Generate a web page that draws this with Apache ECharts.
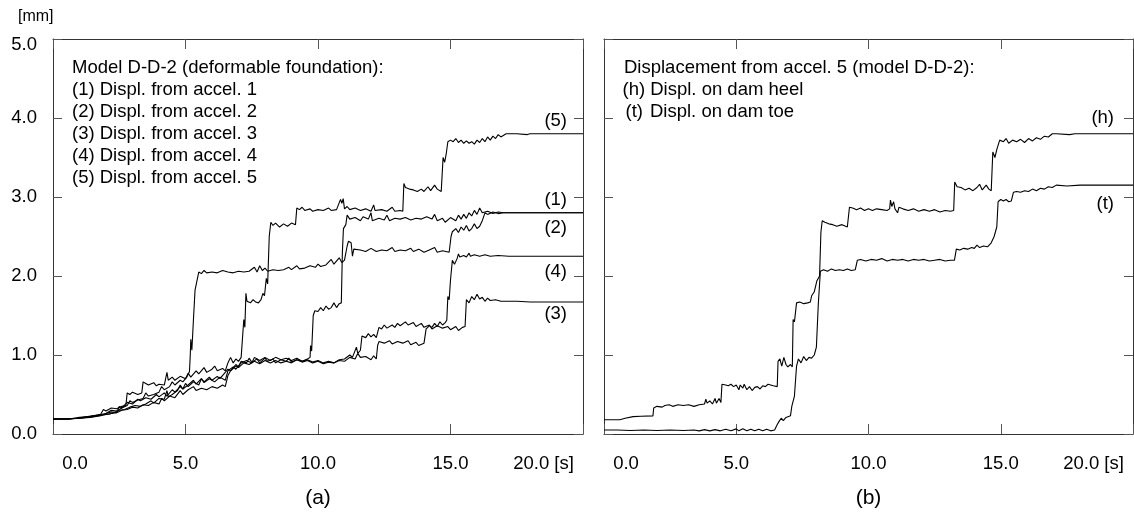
<!DOCTYPE html>
<html>
<head>
<meta charset="utf-8">
<script src="https://cdn.jsdelivr.net/npm/echarts@6/dist/echarts.min.js"></script>
<style>
html,body{margin:0;padding:0;background:#fff;}
#chart{width:1134px;height:517px;}
</style>
</head>
<body>
<div id="chart"></div>
<script>
// ---- data (time [s], displacement [mm]) ----
const xTicks = [0, 5, 10, 15, 20];
const yTicks = [0, 1, 2, 3, 4, 5];

// Panel (a)
const s1 = [[0,0.19],[0.5,0.19],[0.9,0.2],[1.3,0.22],[1.7,0.24],[2.0,0.26],[2.2,0.3],[2.4,0.29],[2.6,0.33],[2.8,0.36],[2.9,0.42],[3.0,0.4],[3.2,0.43],[3.4,0.45],[3.5,0.52],[3.6,0.48],[3.8,0.5],[4.0,0.53],[4.1,0.6],[4.2,0.56],[4.4,0.6],[4.5,0.66],[4.6,0.62],[4.8,0.68],[4.9,0.66],[5.05,0.72],[5.15,0.79],[5.18,1.0],[5.2,1.2],[5.24,1.06],[5.3,1.45],[5.36,1.82],[5.42,1.92],[5.5,2.05],[5.6,2.03],[5.7,2.07],[5.8,2.04],[6.0,2.05],[6.2,2.04],[6.4,2.07],[6.6,2.05],[6.8,2.04],[7.0,2.06],[7.2,2.05],[7.4,2.06],[7.6,2.11],[7.7,2.05],[7.8,2.13],[7.9,2.07],[8.0,2.1],[8.1,2.06],[8.3,2.08],[8.5,2.07],[8.7,2.08],[8.9,2.11],[9.0,2.08],[9.2,2.13],[9.3,2.09],[9.5,2.1],[9.7,2.13],[9.9,2.11],[10.0,2.15],[10.1,2.12],[10.3,2.14],[10.5,2.21],[10.6,2.15],[10.8,2.23],[10.9,2.17],[11.0,2.2],[11.1,2.38],[11.15,2.44],[11.25,2.42],[11.3,2.25],[11.35,2.34],[11.6,2.33],[11.8,2.31],[12.0,2.35],[12.2,2.31],[12.4,2.33],[12.6,2.32],[12.8,2.36],[12.9,2.31],[13.1,2.33],[13.3,2.32],[13.5,2.35],[13.6,2.31],[13.8,2.34],[14.0,2.3],[14.2,2.33],[14.4,2.36],[14.5,2.3],[14.7,2.32],[14.95,2.3],[15.02,2.5],[15.07,2.56],[15.2,2.6],[15.3,2.55],[15.4,2.62],[15.5,2.58],[15.6,2.64],[15.7,2.57],[15.8,2.6],[15.9,2.66],[16.0,2.6],[16.1,2.63],[16.2,2.7],[16.3,2.8],[16.4,2.78],[16.6,2.81],[16.8,2.79],[17.0,2.8],[18,2.8],[20,2.8]];
const s2 = [[0,0.19],[0.5,0.19],[1.0,0.2],[1.4,0.22],[1.8,0.24],[2.1,0.25],[2.3,0.27],[2.5,0.3],[2.7,0.31],[2.9,0.34],[3.1,0.36],[3.3,0.35],[3.5,0.38],[3.7,0.42],[3.8,0.39],[4.0,0.45],[4.2,0.44],[4.3,0.55],[4.35,0.47],[4.5,0.5],[4.7,0.55],[4.8,0.62],[4.9,0.57],[5.1,0.62],[5.3,0.68],[5.4,0.63],[5.6,0.7],[5.7,0.66],[5.9,0.72],[6.0,0.68],[6.2,0.73],[6.3,0.7],[6.5,0.78],[6.6,0.82],[6.7,0.8],[6.9,0.88],[7.0,0.85],[7.1,0.92],[7.3,0.9],[7.4,0.96],[7.5,0.91],[7.7,0.95],[7.8,0.9],[8.0,0.96],[8.1,0.92],[8.3,0.95],[8.4,0.9],[8.6,0.94],[8.8,0.92],[8.9,0.96],[9.0,0.91],[9.2,0.94],[9.4,0.92],[9.6,0.95],[9.7,0.97],[9.72,1.12],[9.76,1.05],[9.82,1.5],[9.88,1.56],[10.0,1.55],[10.1,1.6],[10.2,1.56],[10.3,1.62],[10.4,1.58],[10.5,1.6],[10.6,1.66],[10.7,1.6],[10.8,1.65],[10.88,1.66],[10.92,2.3],[10.96,2.6],[11.05,2.65],[11.1,2.77],[11.2,2.72],[11.4,2.74],[11.6,2.7],[11.7,2.75],[11.9,2.72],[12.0,2.8],[12.05,2.7],[12.3,2.73],[12.5,2.71],[12.6,2.77],[12.7,2.7],[12.9,2.73],[13.1,2.72],[13.3,2.74],[13.5,2.71],[13.7,2.73],[13.9,2.72],[14.1,2.75],[14.3,2.72],[14.4,2.78],[14.5,2.7],[14.7,2.73],[14.8,2.68],[15.0,2.74],[15.2,2.7],[15.3,2.77],[15.4,2.72],[15.5,2.78],[15.6,2.73],[15.7,2.8],[15.8,2.76],[15.9,2.83],[16.0,2.78],[16.1,2.86],[16.2,2.8],[16.4,2.82],[16.6,2.79],[16.8,2.81],[17.0,2.8],[18.0,2.8],[20,2.8]];
const s3 = [[0,0.19],[0.6,0.19],[1.0,0.2],[1.4,0.21],[1.8,0.23],[2.0,0.26],[2.2,0.28],[2.4,0.27],[2.5,0.35],[2.6,0.33],[2.8,0.4],[3.0,0.38],[3.2,0.44],[3.3,0.42],[3.5,0.46],[3.7,0.44],[3.9,0.5],[4.0,0.47],[4.2,0.52],[4.3,0.48],[4.5,0.56],[4.6,0.53],[4.8,0.6],[4.9,0.57],[5.0,0.64],[5.1,0.6],[5.3,0.66],[5.5,0.62],[5.6,0.7],[5.7,0.65],[5.9,0.7],[6.1,0.66],[6.3,0.72],[6.5,0.68],[6.6,0.8],[6.8,0.85],[6.9,0.82],[7.1,0.9],[7.3,0.93],[7.5,0.9],[7.6,0.97],[7.8,0.93],[8.0,0.97],[8.2,0.93],[8.4,0.97],[8.6,0.94],[8.8,0.96],[9.0,0.93],[9.2,0.96],[9.4,0.92],[9.6,0.94],[9.8,0.91],[10.0,0.93],[10.2,0.9],[10.4,0.92],[10.6,0.9],[10.8,0.94],[11.0,0.95],[11.2,1.0],[11.3,0.97],[11.45,1.1],[11.5,1.02],[11.6,1.06],[11.66,1.24],[11.8,1.22],[11.9,1.27],[12.0,1.23],[12.1,1.26],[12.2,1.22],[12.3,1.35],[12.4,1.33],[12.5,1.38],[12.6,1.34],[12.8,1.38],[12.9,1.35],[13.0,1.4],[13.1,1.37],[13.3,1.42],[13.4,1.38],[13.6,1.41],[13.7,1.36],[13.9,1.4],[14.0,1.35],[14.2,1.38],[14.3,1.33],[14.5,1.37],[14.7,1.34],[14.9,1.36],[15.0,1.32],[15.2,1.36],[15.3,1.31],[15.45,1.35],[15.55,1.36],[15.6,1.7],[15.7,1.66],[15.8,1.74],[15.9,1.7],[16.0,1.77],[16.1,1.71],[16.2,1.73],[16.3,1.68],[16.4,1.72],[16.5,1.69],[16.7,1.7],[16.9,1.68],[17.5,1.68],[18,1.67],[20,1.67]];
const s4 = [[0,0.19],[0.5,0.19],[1.0,0.2],[1.5,0.22],[1.9,0.24],[2.2,0.26],[2.4,0.27],[2.6,0.3],[2.8,0.31],[3.0,0.34],[3.2,0.33],[3.4,0.37],[3.6,0.36],[3.8,0.4],[4.0,0.38],[4.1,0.45],[4.2,0.42],[4.4,0.48],[4.6,0.46],[4.8,0.55],[4.9,0.5],[5.1,0.56],[5.3,0.6],[5.4,0.55],[5.6,0.58],[5.8,0.56],[6.0,0.6],[6.2,0.58],[6.4,0.62],[6.5,0.6],[6.6,0.74],[6.7,0.8],[6.9,0.86],[7.0,0.84],[7.2,0.9],[7.4,0.88],[7.6,0.92],[7.8,0.89],[8.0,0.93],[8.2,0.9],[8.4,0.93],[8.6,0.9],[8.8,0.92],[9.0,0.9],[9.2,0.94],[9.4,0.91],[9.6,0.93],[9.8,0.9],[10.0,0.92],[10.2,0.89],[10.4,0.91],[10.6,0.9],[10.8,0.93],[11.0,0.92],[11.2,0.97],[11.4,0.95],[11.5,1.02],[11.6,0.97],[11.8,0.98],[12.0,0.94],[12.1,0.99],[12.2,0.95],[12.25,1.12],[12.3,1.17],[12.5,1.15],[12.7,1.18],[12.8,1.14],[13.0,1.17],[13.2,1.15],[13.4,1.18],[13.5,1.13],[13.7,1.16],[13.8,1.12],[14.0,1.15],[14.05,1.14],[14.08,1.33],[14.2,1.37],[14.3,1.35],[14.4,1.4],[14.5,1.36],[14.6,1.42],[14.7,1.38],[14.8,1.41],[14.86,1.44],[14.9,1.74],[14.95,1.7],[15.0,1.95],[15.07,2.2],[15.15,2.15],[15.25,2.22],[15.3,2.28],[15.35,2.24],[15.5,2.26],[15.6,2.24],[15.7,2.29],[15.75,2.25],[15.9,2.27],[16.1,2.25],[16.3,2.27],[16.5,2.25],[16.8,2.26],[17.2,2.25],[18,2.25],[20,2.25]];
const s5 = [[0,0.19],[0.6,0.19],[1.0,0.21],[1.4,0.22],[1.8,0.25],[1.9,0.31],[2.0,0.29],[2.2,0.33],[2.4,0.32],[2.6,0.35],[2.75,0.36],[2.8,0.52],[2.9,0.5],[3.0,0.53],[3.2,0.5],[3.35,0.52],[3.4,0.66],[3.5,0.64],[3.6,0.62],[3.8,0.65],[3.9,0.61],[4.0,0.63],[4.2,0.62],[4.3,0.78],[4.35,0.68],[4.5,0.72],[4.6,0.68],[4.8,0.73],[5.0,0.7],[5.1,0.77],[5.2,0.72],[5.4,0.8],[5.5,0.76],[5.7,0.84],[5.8,0.78],[6.0,0.82],[6.1,0.86],[6.2,0.8],[6.4,0.83],[6.5,0.8],[6.6,0.9],[6.7,0.97],[6.8,0.9],[6.9,0.95],[7.0,0.92],[7.1,0.97],[7.17,0.96],[7.2,1.45],[7.24,1.35],[7.28,1.78],[7.32,1.68],[7.45,1.66],[7.55,1.7],[7.65,1.67],[7.75,1.66],[7.85,1.7],[7.92,1.78],[7.98,1.75],[8.05,1.97],[8.1,1.9],[8.16,2.5],[8.22,2.68],[8.3,2.64],[8.4,2.67],[8.55,2.62],[8.7,2.66],[8.85,2.63],[9.0,2.67],[9.15,2.65],[9.2,2.86],[9.3,2.84],[9.4,2.87],[9.5,2.83],[9.7,2.85],[9.8,2.82],[10.0,2.84],[10.2,2.83],[10.4,2.86],[10.5,2.83],[10.7,2.84],[10.85,2.97],[10.9,2.92],[10.95,2.98],[11.0,2.85],[11.1,2.88],[11.2,2.84],[11.4,2.86],[11.6,2.83],[11.8,2.85],[12.0,2.82],[12.1,2.9],[12.15,2.83],[12.4,2.84],[12.6,2.82],[12.8,2.87],[12.9,2.82],[13.1,2.83],[13.2,2.82],[13.24,3.17],[13.3,3.12],[13.45,3.1],[13.6,3.09],[13.75,3.07],[13.9,3.1],[14.0,3.07],[14.15,3.13],[14.25,3.08],[14.4,3.15],[14.5,3.1],[14.65,3.07],[14.72,3.5],[14.78,3.44],[14.84,3.55],[14.9,3.7],[15.0,3.72],[15.1,3.7],[15.2,3.74],[15.3,3.69],[15.4,3.72],[15.5,3.68],[15.6,3.71],[15.7,3.68],[15.8,3.7],[15.9,3.67],[16.0,3.72],[16.1,3.69],[16.2,3.74],[16.3,3.7],[16.4,3.76],[16.5,3.72],[16.6,3.77],[16.7,3.74],[16.8,3.79],[16.9,3.76],[17.1,3.8],[17.5,3.8],[17.9,3.79],[18.0,3.8],[20,3.8]];

// Panel (b)
const sHeel = [[0,0.18],[0.6,0.18],[0.8,0.2],[1.1,0.22],[1.4,0.225],[1.85,0.23],[1.88,0.33],[2.0,0.35],[2.2,0.34],[2.3,0.36],[2.46,0.37],[2.6,0.35],[2.8,0.37],[3.0,0.36],[3.2,0.37],[3.4,0.35],[3.6,0.37],[3.8,0.38],[3.85,0.44],[3.9,0.39],[4.0,0.42],[4.1,0.38],[4.2,0.45],[4.25,0.39],[4.35,0.45],[4.42,0.4],[4.46,0.63],[4.6,0.62],[4.7,0.61],[4.8,0.63],[4.9,0.6],[5.0,0.62],[5.1,0.56],[5.15,0.62],[5.25,0.58],[5.3,0.63],[5.4,0.56],[5.5,0.6],[5.6,0.55],[5.7,0.59],[5.8,0.6],[5.9,0.57],[6.0,0.61],[6.1,0.6],[6.2,0.63],[6.4,0.61],[6.55,0.6],[6.58,0.92],[6.65,0.95],[6.72,0.86],[6.8,0.97],[6.88,0.88],[6.95,0.85],[7.05,0.88],[7.12,0.85],[7.15,1.45],[7.2,1.42],[7.28,1.66],[7.4,1.67],[7.55,1.65],[7.7,1.66],[7.8,1.67],[7.85,1.75],[7.95,1.8],[8.05,1.94],[8.15,2.0],[8.2,2.55],[8.25,2.7],[8.35,2.68],[8.5,2.66],[8.65,2.65],[8.8,2.63],[9.0,2.65],[9.2,2.62],[9.28,2.87],[9.4,2.86],[9.55,2.84],[9.7,2.86],[9.85,2.83],[10.0,2.85],[10.15,2.83],[10.3,2.85],[10.5,2.84],[10.7,2.83],[10.8,2.85],[10.83,2.96],[10.88,2.88],[10.95,2.94],[11.0,2.85],[11.1,2.8],[11.15,2.87],[11.3,2.85],[11.5,2.83],[11.7,2.85],[11.9,2.82],[12.1,2.84],[12.3,2.82],[12.5,2.84],[12.7,2.81],[12.9,2.83],[13.1,2.82],[13.22,2.83],[13.26,3.19],[13.35,3.13],[13.5,3.12],[13.65,3.09],[13.8,3.11],[13.95,3.08],[14.1,3.12],[14.2,3.16],[14.3,3.09],[14.45,3.15],[14.55,3.1],[14.64,3.08],[14.7,3.57],[14.78,3.5],[14.85,3.6],[14.96,3.72],[15.1,3.7],[15.2,3.74],[15.3,3.68],[15.45,3.72],[15.6,3.7],[15.75,3.73],[15.9,3.69],[16.05,3.74],[16.2,3.71],[16.35,3.75],[16.5,3.73],[16.65,3.77],[16.8,3.76],[16.95,3.8],[17.1,3.8],[17.6,3.79],[17.8,3.8],[20,3.8]];
const sToe = [[0,0.05],[0.5,0.05],[1.0,0.045],[1.5,0.05],[2.0,0.045],[2.5,0.05],[3.0,0.045],[3.4,0.05],[3.6,0.04],[3.8,0.055],[4.0,0.04],[4.2,0.055],[4.4,0.04],[4.6,0.06],[4.8,0.04],[5.0,0.065],[5.1,0.04],[5.25,0.065],[5.4,0.04],[5.55,0.06],[5.7,0.04],[5.85,0.06],[6.0,0.04],[6.15,0.06],[6.3,0.04],[6.45,0.05],[6.55,0.12],[6.62,0.16],[6.7,0.2],[6.78,0.17],[6.88,0.21],[6.95,0.2],[7.05,0.23],[7.1,0.35],[7.2,0.48],[7.28,0.86],[7.35,0.95],[7.45,0.9],[7.55,0.98],[7.65,0.93],[7.75,0.97],[7.85,0.96],[7.95,1.0],[8.03,1.1],[8.1,1.63],[8.18,2.06],[8.3,2.08],[8.45,2.06],[8.6,2.09],[8.75,2.07],[8.9,2.08],[9.05,2.07],[9.2,2.09],[9.35,2.07],[9.5,2.08],[9.58,2.2],[9.7,2.21],[9.9,2.19],[10.1,2.21],[10.3,2.2],[10.5,2.22],[10.7,2.19],[10.9,2.21],[11.1,2.2],[11.3,2.21],[11.5,2.19],[11.7,2.21],[11.9,2.2],[12.1,2.21],[12.3,2.19],[12.5,2.2],[12.7,2.21],[12.9,2.19],[13.1,2.2],[13.25,2.2],[13.32,2.34],[13.45,2.33],[13.6,2.35],[13.75,2.34],[13.9,2.36],[14.0,2.35],[14.1,2.39],[14.2,2.36],[14.35,2.38],[14.5,2.37],[14.64,2.42],[14.75,2.5],[14.85,2.62],[14.9,2.94],[15.0,2.97],[15.1,2.95],[15.2,2.97],[15.3,2.94],[15.4,2.95],[15.48,3.06],[15.6,3.07],[15.75,3.06],[15.9,3.08],[16.05,3.07],[16.2,3.1],[16.35,3.08],[16.5,3.11],[16.65,3.1],[16.8,3.13],[16.95,3.12],[17.1,3.15],[17.5,3.14],[18,3.15],[20,3.15]];

const legendA = ['Model D-D-2 (deformable foundation):','(1) Displ. from accel. 1','(2) Displ. from accel. 2','(3) Displ. from accel. 3','(4) Displ. from accel. 4','(5) Displ. from accel. 5'];
const legendB = ['Displacement from accel. 5 (model D-D-2):','(h) Displ. on dam heel','Displ. on dam toe'];
const curveLabelsA = ['(5)','(1)','(2)','(4)','(3)'];
const curveLabelsB = ['(h)','(t)'];

// ---- chart ----
const FONT = 'Liberation Sans, Arial, Helvetica, sans-serif';
const FS = 18.5;
const frame = '#333';
const tickCol = '#555';

function xAxisCfg(grid, showLabels, pos) {
  return {
    type: 'value', gridIndex: grid, position: pos, min: xTicks[0], max: xTicks[xTicks.length-1], interval: 5,
    axisLine: {show: true, onZero: false, lineStyle: {color: frame, width: 1}},
    axisTick: {show: true, inside: true, length: 10, lineStyle: {color: tickCol, width: 1}},
    splitLine: {show: false},
    axisLabel: showLabels ? {
      show: true, color: '#000', fontFamily: FONT, fontSize: FS, margin: 20,
      showMinLabel: true, showMaxLabel: true,
      formatter: function (v) {
        if (v === 0) return '{l|0.0}';
        if (v === 20) return '{r|20.0 [s]}';
        return v.toFixed(1);
      },
      rich: {
        l: {padding: [0, 0, 0, 44], fontFamily: FONT, fontSize: FS, color: '#000'},
        r: {padding: [0, 79, 0, 0], fontFamily: FONT, fontSize: FS, color: '#000'}
      }
    } : {show: false}
  };
}
function yAxisCfg(grid, showLabels, pos) {
  return {
    type: 'value', gridIndex: grid, position: pos, min: yTicks[0], max: yTicks[yTicks.length-1], interval: 1,
    axisLine: {show: true, onZero: false, lineStyle: {color: frame, width: 1}},
    axisTick: {show: true, inside: true, length: 9, lineStyle: {color: tickCol, width: 1}},
    splitLine: {show: false},
    axisLabel: showLabels ? {
      show: true, color: '#000', fontFamily: FONT, fontSize: FS, margin: 16,
      showMinLabel: true, showMaxLabel: true,
      formatter: function (v) { return v === 5 ? '{t|5.0}' : v.toFixed(1); },
      rich: {t: {padding: [12, 0, 0, 0], fontFamily: FONT, fontSize: FS, color: '#000'}}
    } : {show: false}
  };
}
function line(data, xi, yi) {
  return {type: 'line', data: data, xAxisIndex: xi, yAxisIndex: yi, showSymbol: false, symbol: 'none',
    silent: true, animation: false, lineStyle: {color: '#000', width: 1.1}};
}
function txt(t, x, y, align, size) {
  return {type: 'text', x: x, y: y, silent: true,
    style: {text: t, fill: '#000', font: (size || FS) + 'px ' + FONT, textAlign: align || 'left', textVerticalAlign: 'middle'}};
}

const graphics = [];
graphics.push(txt('[mm]', 18, 17, 'left', 16));
legendA.forEach((t, i) => graphics.push(txt(t, 72, 67.5 + i * 22.1)));
graphics.push(txt(legendB[0], 624, 67.5));
graphics.push(txt(legendB[1], 622.5, 89.6));
graphics.push(txt('(t)', 625.5, 111.7));
graphics.push(txt(legendB[2], 650, 111.7));
const yA = [121, 200, 228, 272, 314];
curveLabelsA.forEach((t, i) => graphics.push(txt(t, 567, yA[i], 'right')));
graphics.push(txt(curveLabelsB[0], 1114, 118, 'right'));
graphics.push(txt(curveLabelsB[1], 1114, 204, 'right'));
graphics.push(txt('(a)', 318, 498, 'center', 21));
graphics.push(txt('(b)', 868.5, 498, 'center', 21));

const chart = echarts.init(document.getElementById('chart'), null, {renderer: 'canvas'});
chart.setOption({
  animation: false,
  backgroundColor: '#fff',
  grid: [
    {left: 53, top: 39, width: 530, height: 395, containLabel: false},
    {left: 604, top: 39, width: 529, height: 395, containLabel: false}
  ],
  xAxis: [xAxisCfg(0, true, 'bottom'), xAxisCfg(0, false, 'top'), xAxisCfg(1, true, 'bottom'), xAxisCfg(1, false, 'top')],
  yAxis: [yAxisCfg(0, true, 'left'), yAxisCfg(0, false, 'right'), yAxisCfg(1, false, 'left'), yAxisCfg(1, false, 'right')],
  series: [line(s1, 0, 0), line(s2, 0, 0), line(s3, 0, 0), line(s4, 0, 0), line(s5, 0, 0), line(sHeel, 2, 2), line(sToe, 2, 2)],
  graphic: graphics
});
</script>
</body>
</html>
